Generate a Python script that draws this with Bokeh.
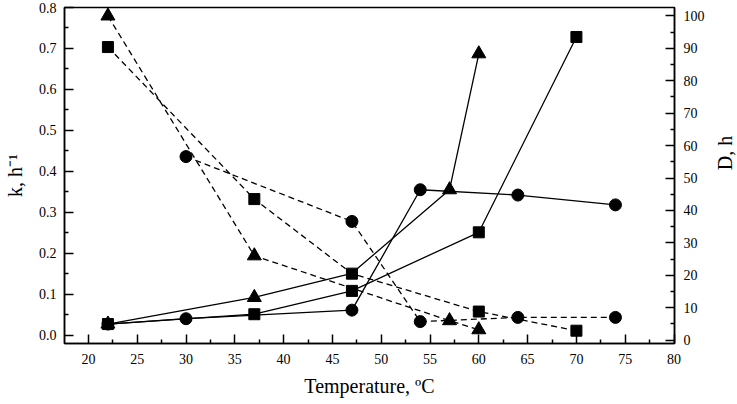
import math
from bokeh.plotting import figure
from bokeh.layouts import row
from bokeh.models import Range1d, LinearAxis, FixedTicker, PrintfTickFormatter
from bokeh.core.properties import value
from bokeh.embed import file_html
from bokeh.resources import INLINE

# ---- data ----
# rate constant k, h^-1 (left axis, solid lines)
k_circle_T = [22, 30, 47, 54, 64, 74]
k_circle = [0.027, 0.040, 0.061, 0.355, 0.342, 0.318]
k_square_T = [22, 37, 47, 60, 70]
k_square = [0.027, 0.051, 0.108, 0.251, 0.728]
k_tri_T = [22, 37, 47, 57, 60]
k_tri = [0.027, 0.092, 0.151, 0.355, 0.687]
k_tri_marker_shown = [True, True, False, True, True]

# D, h (right axis, dashed lines)
D_circle_T = [30, 47, 54, 64, 74]
D_circle = [56.6, 36.6, 5.7, 7.0, 7.0]
D_square_T = [22, 37, 47, 60, 70]
D_square = [90.4, 43.5, 20.5, 8.8, 2.9]
D_tri_T = [22, 37, 57, 60]
D_tri = [100.0, 26.0, 6.0, 3.2]

x_ticks = [20, 25, 30, 35, 40, 45, 50, 55, 60, 65, 70, 75, 80]
x_minor = [22.5, 27.5, 32.5, 37.5, 42.5, 47.5, 52.5, 57.5, 62.5, 67.5, 72.5, 77.5]
k_ticks = [0.0, 0.1, 0.2, 0.3, 0.4, 0.5, 0.6, 0.7, 0.8]
k_minor = [0.05, 0.15, 0.25, 0.35, 0.45, 0.55, 0.65, 0.75]
D_ticks = [0, 10, 20, 30, 40, 50, 60, 70, 80, 90, 100]
D_minor = [5, 15, 25, 35, 45, 55, 65, 75, 85, 95]

x_title = "Temperature, ºC"
k_title = "k, h⁻¹"
D_title = "D, h"

FONT = "Liberation Serif"
W_MAIN, W_SIDE, H = 707, 30, 404

p = figure(width=W_MAIN, height=H, output_backend="svg", toolbar_location=None,
           x_range=Range1d(17.55, 80.05), y_range=Range1d(-0.0205, 0.8),
           min_border_left=61, min_border_right=33, min_border_top=7,
           min_border_bottom=61)
p.extra_y_ranges = {"D": Range1d(-1.05, 102.6)}

p.grid.visible = False
p.outline_line_color = "black"
p.outline_line_width = 1.5
p.background_fill_color = "white"
p.border_fill_color = "white"


def style_axis(ax, ticks, minor, standoff, label_standoff):
    ax.ticker = FixedTicker(ticks=ticks, minor_ticks=minor)
    ax.major_tick_in = 9
    ax.major_tick_out = 0
    ax.minor_tick_in = 4
    ax.minor_tick_out = 0
    ax.axis_line_width = 1.5
    ax.major_tick_line_width = 1.5
    ax.minor_tick_line_width = 1.5
    ax.axis_line_color = "black"
    ax.major_tick_line_color = "black"
    ax.minor_tick_line_color = "black"
    ax.major_label_text_font = FONT
    ax.major_label_text_font_size = "14px"
    ax.major_label_text_color = "black"
    ax.major_label_standoff = standoff
    ax.axis_label_text_font = FONT
    ax.axis_label_text_font_style = "normal"
    ax.axis_label_text_font_size = "20px"
    ax.axis_label_text_color = "black"
    ax.axis_label_standoff = label_standoff


xa = p.xaxis[0]
style_axis(xa, x_ticks, x_minor, 10, 8)
xa.axis_label = x_title

ya = p.yaxis[0]
style_axis(ya, k_ticks, k_minor, 8, 10)
ya.formatter = PrintfTickFormatter(format="%.1f")
ya.axis_label = k_title

ra = LinearAxis(y_range_name="D")
style_axis(ra, D_ticks, D_minor, 9, 0)
p.add_layout(ra, "right")

LW = 1.3
DASH = "6 4"

# lines
p.line(k_circle_T, k_circle, line_color="black", line_width=LW)
p.line(k_square_T, k_square, line_color="black", line_width=LW)
p.line(k_tri_T, k_tri, line_color="black", line_width=LW)
p.line(D_circle_T, D_circle, y_range_name="D", line_color="black",
       line_width=LW, line_dash=DASH)
p.line(D_square_T, D_square, y_range_name="D", line_color="black",
       line_width=LW, line_dash=DASH)
p.line(D_tri_T, D_tri, y_range_name="D", line_color="black",
       line_width=LW, line_dash=DASH)

# markers
p.scatter(k_circle_T, k_circle, marker="circle", size=12, color="black")
p.scatter(D_circle_T, D_circle, y_range_name="D", marker="circle", size=12,
          color="black")
p.scatter(k_square_T, k_square, marker="square", size=11, color="black")
p.scatter(D_square_T, D_square, y_range_name="D", marker="square", size=11,
          color="black")
tri_x = [t for t, s in zip(k_tri_T, k_tri_marker_shown) if s]
tri_y = [v for v, s in zip(k_tri, k_tri_marker_shown) if s]
p.scatter(tri_x, tri_y, marker="triangle", size=14, color="black")
p.scatter(D_tri_T, D_tri, y_range_name="D", marker="triangle", size=14,
          color="black")

# narrow side panel carrying the right-axis title (reads bottom-to-top)
side = figure(width=W_SIDE, height=H, output_backend="svg",
              toolbar_location=None, x_axis_type=None, y_axis_type=None,
              x_range=Range1d(0, W_SIDE), y_range=Range1d(0, H),
              min_border=0, outline_line_color=None)
side.grid.visible = False
side.background_fill_color = "white"
side.border_fill_color = "white"
side.text(x=[17], y=[H - 175], text=[D_title], angle=math.pi / 2,
          text_font=value(FONT), text_font_size="20px", text_color="black",
          text_align="center", text_baseline="middle")

layout = row(p, side, spacing=0)
open("out.html", "w").write(file_html(layout, INLINE))
